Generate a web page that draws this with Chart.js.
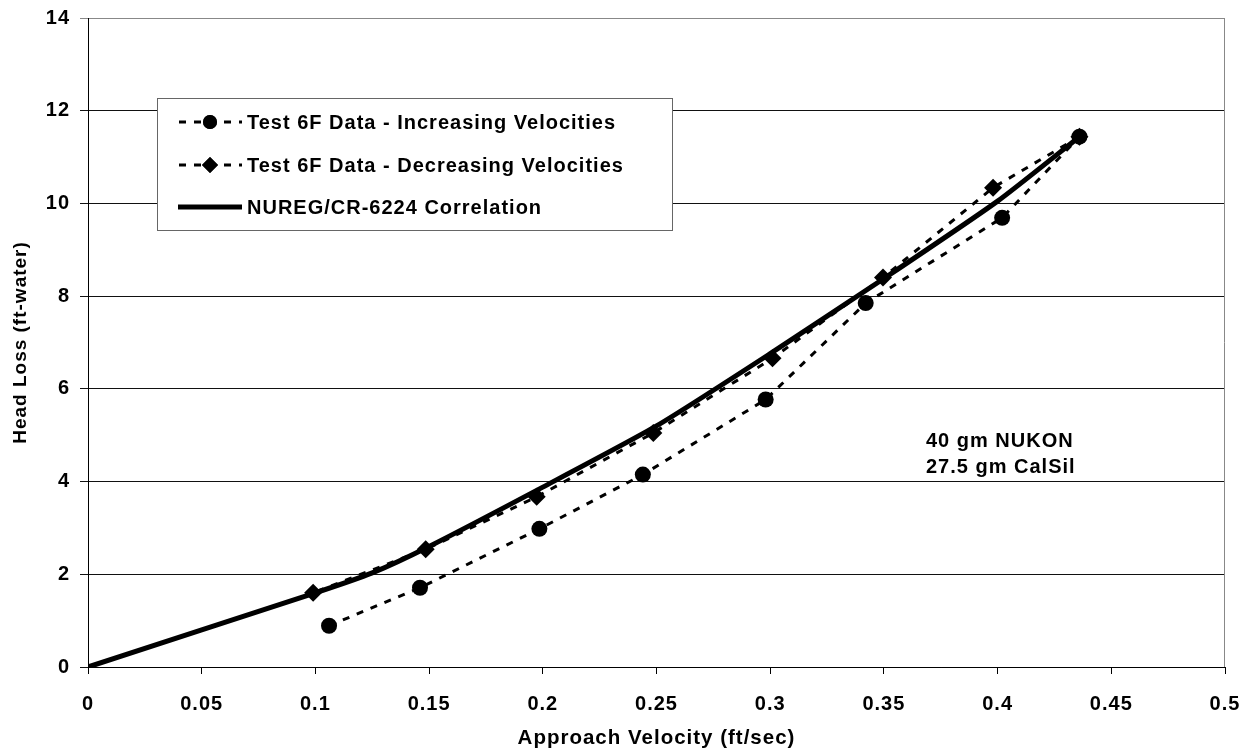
<!DOCTYPE html>
<html>
<head>
<meta charset="utf-8">
<script src="https://cdn.jsdelivr.net/npm/chart.js@4.4.0/dist/chart.umd.min.js"></script>
<style>
  html, body { margin: 0; padding: 0; background: #fff; }
  #wrap { width: 1250px; height: 753px; }
</style>
</head>
<body>
<div id="wrap"><canvas id="headLoss" width="1250" height="753"></canvas></div>
<script>
// Test 6F, increasing approach velocity (ft/sec) and head loss (ft-water)
var incVelocity = [0.106, 0.146, 0.1985, 0.244, 0.298, 0.342, 0.402, 0.436];
var incHeadLoss = [0.89, 1.71, 2.98, 4.15, 5.77, 7.85, 9.69, 11.44];

// Test 6F, decreasing velocities
var decVelocity = [0.436, 0.398, 0.3496, 0.301, 0.2486, 0.1973, 0.1485, 0.099];
var decHeadLoss = [11.44, 10.34, 8.40, 6.66, 5.05, 3.67, 2.54, 1.60];

// NUREG/CR-6224 correlation curve
var corrVelocity = [0, 0.1, 0.125, 0.15, 0.2, 0.25, 0.3, 0.35, 0.4, 0.436];
var corrHeadLoss = [0, 1.60, 2.03, 2.60, 3.88, 5.20, 6.76, 8.38, 10.05, 11.44];

var xTicks = [0, 0.05, 0.1, 0.15, 0.2, 0.25, 0.3, 0.35, 0.4, 0.45, 0.5];
var yTicks = [0, 2, 4, 6, 8, 10, 12, 14];

var seriesNames = [
  "Test 6F Data - Increasing Velocities",
  "Test 6F Data - Decreasing Velocities",
  "NUREG/CR-6224 Correlation"
];
var noteLines = ["40 gm NUKON", "27.5 gm CalSil"];

var FONT = "'Liberation Sans', Arial, sans-serif";
var SPACING = '1px';

function toPoints(xs, ys) {
  return xs.map(function (x, i) { return { x: x, y: ys[i] }; });
}

// slightly wider letter spacing for every label on the canvas
var spacingPlugin = {
  id: 'spacing',
  beforeDraw: function (chart) {
    if ('letterSpacing' in chart.ctx) chart.ctx.letterSpacing = SPACING;
  }
};

// legend box, note text and the plot's right border
var extrasPlugin = {
  id: 'extras',
  afterDraw: function (chart) {
    var ctx = chart.ctx;
    var area = chart.chartArea;
    ctx.save();

    // right border of plot area
    ctx.strokeStyle = '#888';
    ctx.lineWidth = 1;
    ctx.beginPath();
    ctx.moveTo(Math.round(area.right) - 0.5, area.top);
    ctx.lineTo(Math.round(area.right) - 0.5, area.bottom);
    ctx.stroke();

    // legend
    var box = { left: 157, top: 98, right: 672, bottom: 230 };
    ctx.fillStyle = '#fff';
    ctx.fillRect(box.left, box.top, box.right - box.left, box.bottom - box.top);
    ctx.strokeStyle = '#666';
    ctx.lineWidth = 1;
    ctx.strokeRect(box.left + 0.5, box.top + 0.5, box.right - box.left, box.bottom - box.top);

    var rowsY = [122, 165, 207];
    chart.data.datasets.forEach(function (ds, i) {
      var y = rowsY[i];
      ctx.save();
      ctx.strokeStyle = '#000';
      ctx.lineWidth = ds.borderWidth;
      ctx.setLineDash(ds.borderDash || []);
      ctx.lineDashOffset = ds.borderDash ? -1 : 0;
      ctx.beginPath();
      ctx.moveTo(178, y);
      ctx.lineTo(242, y);
      ctx.stroke();
      ctx.restore();
      if (ds.pointRadius > 0) {
        ctx.fillStyle = '#000';
        Chart.helpers.drawPoint(ctx, {
          pointStyle: ds.pointStyle,
          radius: ds.pointStyle === 'rectRot' ? 8 : 7,
          borderWidth: 0
        }, 210, y);
        ctx.fill();
      }
      ctx.fillStyle = '#000';
      ctx.font = 'bold 20px ' + FONT;
      ctx.textAlign = 'left';
      ctx.textBaseline = 'middle';
      ctx.fillText(ds.label, 247, y + 1);
    });

    // test note
    ctx.font = 'bold 20px ' + FONT;
    ctx.textAlign = 'left';
    ctx.textBaseline = 'middle';
    ctx.fillStyle = '#000';
    ctx.fillText(noteLines[0], 926, 441);
    ctx.fillText(noteLines[1], 926, 467);

    ctx.restore();
  }
};

new Chart(document.getElementById('headLoss').getContext('2d'), {
  type: 'scatter',
  data: {
    datasets: [
      {
        label: seriesNames[0],
        data: toPoints(incVelocity, incHeadLoss),
        showLine: true,
        borderColor: '#000',
        backgroundColor: '#000',
        borderWidth: 3,
        borderDash: [7, 8],
        pointStyle: 'circle',
        pointRadius: 8,
        pointBorderWidth: 0,
        order: 1
      },
      {
        label: seriesNames[1],
        data: toPoints(decVelocity, decHeadLoss),
        showLine: true,
        borderColor: '#000',
        backgroundColor: '#000',
        borderWidth: 3,
        borderDash: [7, 8],
        pointStyle: 'rectRot',
        pointRadius: 9,
        pointBorderWidth: 0,
        order: 2
      },
      {
        label: seriesNames[2],
        data: toPoints(corrVelocity, corrHeadLoss),
        showLine: true,
        borderColor: '#000',
        backgroundColor: '#000',
        borderWidth: 5,
        pointRadius: 0,
        tension: 0.2,
        order: 0
      }
    ]
  },
  options: {
    responsive: false,
    animation: false,
    devicePixelRatio: 1,
    layout: { padding: { top: 18, right: 25, left: 0, bottom: 0 } },
    plugins: {
      legend: { display: false },
      tooltip: { enabled: false }
    },
    scales: {
      x: {
        type: 'linear',
        min: 0,
        max: 0.5,
        afterFit: function (scale) {
          scale.height = 86;
          scale.paddingLeft = 0;
          scale.paddingRight = 0;
        },
        afterBuildTicks: function (scale) {
          scale.ticks = xTicks.map(function (v) { return { value: v }; });
        },
        ticks: {
          callback: function (value) { return String(Number(value.toFixed(2))); },
          font: { family: FONT, size: 20, weight: 'bold' },
          color: '#000',
          padding: 18,
          maxRotation: 0,
          autoSkip: false
        },
        grid: {
          drawOnChartArea: false,
          drawTicks: true,
          tickLength: 7,
          color: '#000'
        },
        border: { color: '#000', width: 1 },
        title: {
          display: true,
          text: 'Approach Velocity (ft/sec)',
          font: { family: FONT, size: 20.5, weight: 'bold' },
          color: '#000',
          padding: { top: 0, bottom: 2 }
        }
      },
      y: {
        type: 'linear',
        min: 0,
        max: 14,
        afterFit: function (scale) {
          scale.width = 88;
          scale.paddingTop = 0;
          scale.paddingBottom = 0;
        },
        afterBuildTicks: function (scale) {
          scale.ticks = yTicks.map(function (v) { return { value: v }; });
        },
        ticks: {
          font: { family: FONT, size: 20, weight: 'bold' },
          color: '#000',
          padding: 10
        },
        grid: {
          color: function (c) { return c.tick && c.tick.value === 14 ? '#888' : '#111'; },
          lineWidth: 1,
          tickLength: 8
        },
        border: { color: '#000', width: 1 },
        title: {
          display: true,
          text: 'Head Loss (ft-water)',
          font: { family: FONT, size: 19, weight: 'bold' },
          color: '#000',
          padding: { top: 9, bottom: 0 }
        }
      }
    }
  },
  plugins: [spacingPlugin, extrasPlugin]
});
</script>
</body>
</html>
